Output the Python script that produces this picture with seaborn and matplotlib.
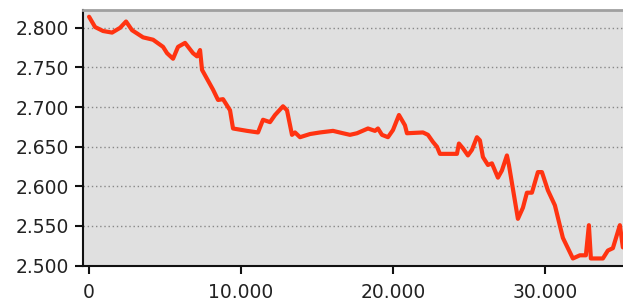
import pandas as pd
import matplotlib
matplotlib.use("Agg")
import matplotlib.pyplot as plt
import matplotlib.ticker as mticker
import seaborn as sns

# Values
steps = [0, 395, 921, 1513, 2039, 2434, 2829, 3553, 4211, 4868, 5132, 5526,
         5855, 6316, 6842, 7105, 7303, 7434, 8158, 8487, 8816, 9276, 9474,
         10395, 11118, 11447, 11908, 12237, 12763, 13026, 13355, 13553, 13882,
         14539, 15197, 16053, 16711, 17171, 17632, 18355, 18816, 19013, 19276,
         19671, 20000, 20395, 20789, 20921, 21974, 22303, 22632, 22895, 23092,
         24211, 24342, 24605, 24934, 25197, 25526, 25724, 25921, 26250, 26513,
         26908, 27171, 27500, 27632, 28224, 28553, 28816, 29145, 29539, 29803,
         30197, 30658, 31184, 31842, 32303, 32697, 32895, 33026, 33816, 34145,
         34474, 34934, 35132]
values = [2.814, 2.801, 2.796, 2.794, 2.800, 2.808, 2.797, 2.788, 2.785, 2.776,
          2.768, 2.761, 2.776, 2.781, 2.768, 2.764, 2.772, 2.747, 2.722, 2.709,
          2.710, 2.696, 2.673, 2.670, 2.668, 2.684, 2.681, 2.690, 2.701, 2.696,
          2.665, 2.668, 2.662, 2.666, 2.668, 2.670, 2.667, 2.665, 2.667, 2.673,
          2.670, 2.673, 2.665, 2.662, 2.671, 2.690, 2.677, 2.667, 2.668, 2.665,
          2.656, 2.650, 2.641, 2.641, 2.654, 2.648, 2.639, 2.646, 2.662, 2.658,
          2.637, 2.627, 2.629, 2.611, 2.620, 2.639, 2.627, 2.559, 2.573, 2.592,
          2.592, 2.618, 2.618, 2.595, 2.576, 2.535, 2.509, 2.513, 2.513, 2.551,
          2.509, 2.509, 2.519, 2.522, 2.551, 2.523]
y_ticks = [2.50, 2.55, 2.60, 2.65, 2.70, 2.75, 2.80]
x_ticks = [0, 10000, 20000, 30000]

df = pd.DataFrame({"step": steps, "value": values})

sns.set_style("white")
plt.rcParams["font.family"] = ["DejaVu Sans"]

fig = plt.figure(figsize=(6.23, 3.03), dpi=100)
ax = fig.add_axes([83 / 623, 1 - 266 / 303, 1 - 83 / 623, 256 / 303])
ax.set_facecolor("#e0e0e0")

sns.lineplot(data=df, x="step", y="value", ax=ax, color="#ff3311",
             linewidth=3.0, zorder=3)

ax.set_xlim(-400, 35140)
ax.set_ylim(2.4995, 2.8225)
ax.set_xticks(x_ticks)
ax.set_yticks(y_ticks)
ax.xaxis.set_major_formatter(mticker.FuncFormatter(lambda v, p: f"{v:,.0f}".replace(",", ".")))
ax.yaxis.set_major_formatter(mticker.FormatStrFormatter("%.3f"))
ax.grid(axis="y", color="#888888", linestyle=(0, (1, 2)), linewidth=1.0)
ax.grid(axis="x", visible=False)
ax.set_axisbelow(True)

ax.set_xlabel("")
ax.set_ylabel("")
for side in ["left", "bottom"]:
    ax.spines[side].set_color("#111111")
    ax.spines[side].set_linewidth(1.5)
ax.spines["top"].set_color("#a0a0a0")
ax.spines["top"].set_linewidth(2)
ax.spines["right"].set_visible(False)
ax.tick_params(axis="both", direction="out", length=6, width=1.5,
               color="#111111", labelsize=13.5, labelcolor="#222222",
               left=True, bottom=True)
ax.tick_params(axis="x", pad=6)
ax.tick_params(axis="y", pad=4)

fig.savefig("out.png", dpi=100)
